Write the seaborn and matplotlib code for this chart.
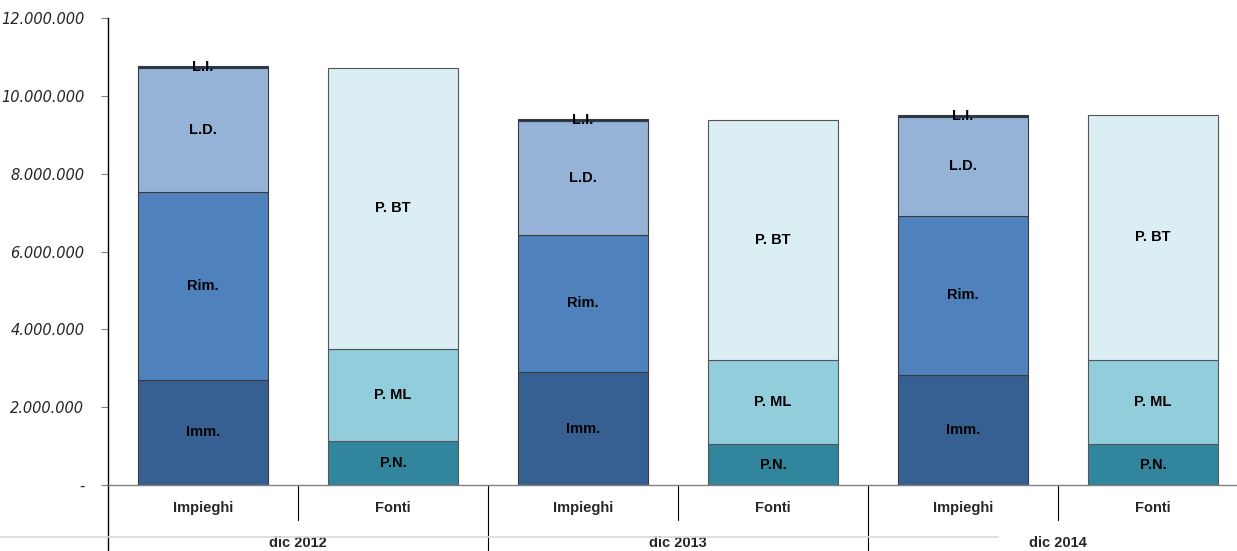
import seaborn as sns
import matplotlib.pyplot as plt
import matplotlib.ticker as mticker
from matplotlib.lines import Line2D
import numpy as np

# Categories (year / side)
years = ['dic 2012', 'dic 2013', 'dic 2014']
sides = ['Impieghi', 'Fonti']
cats = [y + ' ' + s for y in years for s in sides]
imp_cats = [c for c in cats if c.endswith('Impieghi')]
fon_cats = [c for c in cats if c.endswith('Fonti')]

# Impieghi layers (bottom -> top)
imm = [2700000, 2900000, 2830000]
rim = [4830000, 3530000, 4090000]
ld = [3190000, 2930000, 2540000]
li = [50000, 50000, 50000]

# Fonti layers (bottom -> top)
pn = [1130000, 1050000, 1050000]
pml = [2370000, 2160000, 2160000]
pbt = [7220000, 6170000, 6300000]

imp_layers = [('Imm.', imm, '#376092'), ('Rim.', rim, '#4f81bd'),
              ('L.D.', ld, '#95b3d7'), ('L.I.', li, '#17375e')]
fon_layers = [('P.N.', pn, '#31859c'), ('P. ML', pml, '#92cddc'),
              ('P. BT', pbt, '#daeef3')]

sns.set_style('white')
plt.rcParams['font.family'] = ['Liberation Sans Narrow', 'Liberation Sans', 'DejaVu Sans']

fig = plt.figure(figsize=(12.37, 5.51), dpi=100)
ax = fig.add_axes([108 / 1237, 1 - 485 / 551, (1248 - 108) / 1237, (485 - 18) / 551])

def stack(layers, names, edge):
    bottom = np.zeros(len(names))
    for label, vals, color in layers:
        vals = np.array(vals, dtype=float)
        sns.barplot(x=names, y=vals, order=cats, bottom=bottom, color=color,
                    width=0.68, errorbar=None, edgecolor=edge,
                    linewidth=0.8, saturation=1, ax=ax)
        for name, b, v in zip(names, bottom, vals):
            ax.text(cats.index(name), b + v / 2, label, ha='center', va='center',
                    fontsize=10.5, fontweight='bold', color='black')
        bottom = bottom + vals

stack(imp_layers, imp_cats, '#3a3a3a')
stack(fon_layers, fon_cats, '#555555')

ax.set_xlim(-0.5, len(cats) - 0.5)
ax.set_ylim(0, 12000000)
ax.set_yticks(np.arange(0, 12000001, 2000000))
ax.yaxis.set_major_formatter(mticker.FuncFormatter(
    lambda v, p: '-' if v == 0 else f'{int(v):,}'.replace(',', '.')))
for t in ax.get_yticklabels():
    t.set_fontfamily('DejaVu Sans')
    t.set_fontstyle('italic')
    t.set_fontsize(10.5)
    t.set_color('#262626')
ax.tick_params(axis='y', left=True, length=5, color='#808080', pad=12)
ax.set_xticks([])
ax.set_xlabel('')
ax.set_ylabel('')

for s in ['top', 'right']:
    ax.spines[s].set_visible(False)
ax.spines['left'].set_color('black')
ax.spines['left'].set_linewidth(1)
ax.spines['bottom'].set_color('#808080')
ax.spines['bottom'].set_linewidth(1)

# category labels and separators below the axis
trans = ax.get_xaxis_transform()
for i, c in enumerate(cats):
    ax.text(i, -0.049, c.split(' ')[-1], transform=trans, ha='center', va='center',
            fontsize=10.5, fontweight='bold')
for i in range(1, len(cats)):
    low = -0.15 if i % 2 == 0 else -0.075
    ax.plot([i - 0.5, i - 0.5], [0, low], transform=trans, color='black',
            lw=0.8, clip_on=False)
ax.plot([-0.5, -0.5], [0, -0.15], transform=trans, color='black', lw=1, clip_on=False)
for j, y in enumerate(years):
    ax.text(2 * j + 0.5, -0.124, y, transform=trans, ha='center', va='center',
            fontsize=10.5, fontweight='bold')

fig.add_artist(Line2D([0, 998 / 1237], [1 - 537 / 551] * 2, color='#d9d9d9', lw=1.2))

fig.savefig('out.png', dpi=100)
